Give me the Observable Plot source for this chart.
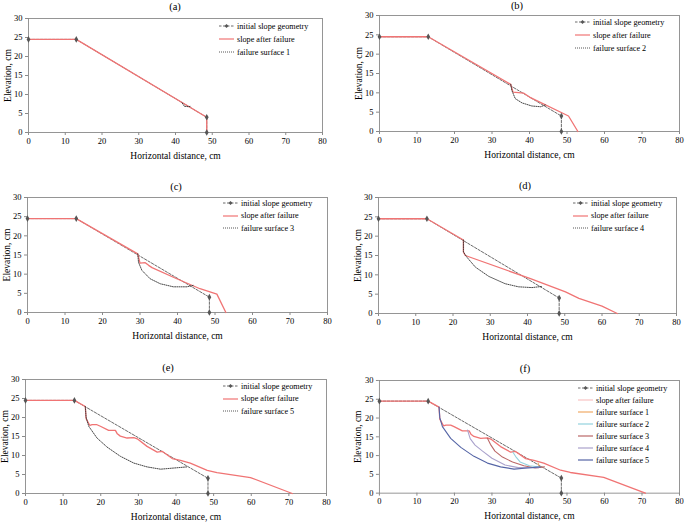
<!DOCTYPE html>
<html><head><meta charset="utf-8">
<script src="https://cdn.jsdelivr.net/npm/d3@7"></script>
<script src="https://cdn.jsdelivr.net/npm/@observablehq/plot@0.6"></script>
<style>
body{margin:0;background:#fff;}
#root{position:relative;width:685px;height:522px;overflow:hidden;font-family:"Liberation Serif","Times New Roman",serif;color:#000;}
.panel{position:absolute;}
.title{position:absolute;font-size:10.5px;transform:translate(-50%,-50%);white-space:nowrap;}
.legend{position:absolute;font-size:8.2px;white-space:nowrap;}
.legend .row{display:flex;align-items:center;}
.legend svg{display:block;margin-right:3px;}
</style></head><body><div id="root"></div>
<script>
// ---------- data ----------
const xTicks = [0, 10, 20, 30, 40, 50, 60, 70, 80];
const yTicks = [0, 5, 10, 15, 20, 25, 30];
const xLabel = "Horizontal distance, cm";
const yLabel = "Elevation, cm";
const titles = ["(a)", "(b)", "(c)", "(d)", "(e)", "(f)"];

const initialX = [0, 13, 48.5, 48.5];
const initialY = [24.5, 24.5, 4, 0];

const afterAX = [0, 13, 48.5, 48.5];
const afterAY = [24.5, 24.5, 4, 0];
const afterBX = [0, 13, 35, 35.6, 38.5, 40, 50.4, 52.9];
const afterBY = [24.5, 24.5, 12.2, 10.2, 9.9, 8.9, 4.0, 0];
const afterCX = [0, 13, 29.4, 30, 31.4, 32.3, 33.2, 39.8, 46, 50.5, 52.9];
const afterCY = [24.5, 24.5, 15.3, 12.9, 13, 12.3, 11.7, 8.8, 6.2, 4.8, 0];
const afterDX = [0, 13, 22.8, 22.8, 23.3, 40.8, 50.2, 53.8, 60, 64.1];
const afterDY = [24.5, 24.5, 19, 15.9, 15, 9, 5.6, 3.9, 1.9, 0];
const afterEX = [0, 13, 15.9, 16.1, 17.1, 17.7, 19, 19.9, 22.1, 23.9, 24.4, 25.2, 27, 28.8, 29.7, 32.3, 35, 36.3, 39, 41.2, 43.8, 48.3, 50.9, 59.8, 70.9];
const afterEY = [24.5, 24.5, 22.9, 19.7, 17.9, 18.1, 18.1, 17.7, 16.6, 16.6, 15.7, 15.1, 14.6, 14.7, 14.4, 12.4, 10.9, 11.1, 9.2, 8.7, 8.0, 6.1, 5.5, 4.2, 0];

const surf1X = [41.8, 42.4, 43.5, 44.2];
const surf1Y = [7.8, 6.9, 6.8, 6.9];
const surf2X = [35, 35.3, 36.2, 38, 40.6, 43, 44.3];
const surf2Y = [12.2, 10.6, 8.5, 7.4, 6.6, 6.4, 6.9];
const surf3X = [29.4, 29.6, 30.5, 32.7, 35.4, 38.9, 42.5, 44.3];
const surf3Y = [15.3, 13.1, 11, 8.8, 7.5, 6.7, 6.7, 7.1];
const surf4X = [22.8, 22.8, 23.7, 26, 29.6, 34, 37.6, 41.2, 43.9];
const surf4Y = [19, 15.9, 14.6, 12, 9.6, 7.7, 6.9, 6.7, 7];
const surf5X = [15.9, 16.1, 16.8, 19, 21.7, 25.2, 28.8, 32.3, 35.9, 39.4, 42.9];
const surf5Y = [22.9, 20.1, 17.7, 14.6, 12.2, 9.8, 8.0, 7.0, 6.4, 6.7, 7.0];

// composite (f) failure surfaces
const fSurf1X = [42.3, 42.6, 43.2];
const fSurf1Y = [8.0, 7.2, 6.9];
const fSurf2X = [35.6, 36.5, 37.5, 40, 43.3];
const fSurf2Y = [10.9, 9.5, 8.3, 7.3, 6.9];
const fSurf3X = [28.8, 29.6, 30.8, 32.8, 35.5, 38.5, 41.5, 44];
const fSurf3Y = [14.6, 13, 11.2, 9.6, 8.3, 7.3, 6.7, 7];
const fSurf4X = [23.5, 24.2, 25.5, 27.5, 30, 33.5, 37, 42.5];
const fSurf4Y = [16.8, 14.5, 12.8, 11.2, 9.3, 7.5, 6.8, 6.8];
const fSurf5X = surf5X;
const fSurf5Y = surf5Y;

const legInitial = "initial slope geometry";
const legAfter = "slope after failure";
const legSurf = ["failure surface 1", "failure surface 2", "failure surface 3", "failure surface 4", "failure surface 5"];

// ---------- styles ----------
const RED = "#f07474";
const surfColors = ["#f0aa66", "#93d2de", "#bb6868", "#aaa2cc", "#5565a6"];
const FONT = '"Liberation Serif","Times New Roman",serif';
const pts = (xs, ys) => xs.map((x, i) => ({x, y: ys[i]}));

// ---------- layout ----------
const panels = [
  {col: 0, fl: 28, fr: 322, ft: 18, fb: 132, after: [afterAX, afterAY], surf: [surf1X, surf1Y], s: 0,
   title: [175, 6], leg: {x: 219, y: 26, dy: 13}},
  {col: 1, fl: 379, fr: 679, ft: 15, fb: 131, after: [afterBX, afterBY], surf: [surf2X, surf2Y], s: 1,
   title: [517, 5], leg: {x: 575, y: 22, dy: 13}},
  {col: 0, fl: 27, fr: 327, ft: 197, fb: 312, after: [afterCX, afterCY], surf: [surf3X, surf3Y], s: 2,
   title: [176, 186], leg: {x: 223, y: 203, dy: 12.5}},
  {col: 1, fl: 378, fr: 676, ft: 197, fb: 313, after: [afterDX, afterDY], surf: [surf4X, surf4Y], s: 3,
   title: [525, 185], leg: {x: 573, y: 203, dy: 12.5}},
  {col: 0, fl: 25, fr: 326, ft: 379, fb: 493, after: [afterEX, afterEY], surf: [surf5X, surf5Y], s: 4,
   title: [168, 367], leg: {x: 223, y: 386, dy: 12.5}},
  {col: 1, fl: 379, fr: 680, ft: 380, fb: 493, after: [afterEX, afterEY], composite: true,
   title: [525, 368], leg: {x: 578, y: 388, dy: 12}}
];

const root = document.getElementById("root");

function legendSample(kind, color) {
  const ns = "http://www.w3.org/2000/svg";
  const svg = document.createElementNS(ns, "svg");
  svg.setAttribute("width", 15); svg.setAttribute("height", 8);
  const l = document.createElementNS(ns, "line");
  l.setAttribute("x1", 0); l.setAttribute("x2", 15); l.setAttribute("y1", 4); l.setAttribute("y2", 4);
  if (kind === "initial") {
    l.setAttribute("stroke", "#444"); l.setAttribute("stroke-width", 0.8); l.setAttribute("stroke-dasharray", "2.5,1.5");
  } else if (kind === "surf") {
    l.setAttribute("stroke", "#444"); l.setAttribute("stroke-width", 0.9); l.setAttribute("stroke-dasharray", "1,1");
  } else {
    l.setAttribute("stroke", color); l.setAttribute("stroke-width", 1.2);
  }
  svg.appendChild(l);
  if (kind === "initial") {
    const p = document.createElementNS(ns, "path");
    p.setAttribute("d", "M7.5,2 L9.5,4 L7.5,6 L5.5,4 Z");
    p.setAttribute("fill", "#555");
    svg.appendChild(p);
  }
  return svg;
}

panels.forEach((cfg, i) => {
  const svgLeft = cfg.col === 0 ? 0 : 345;
  const ML = cfg.fl - svgLeft, MR = 6, MT = 6, MB = 34;
  const width = cfg.fr - svgLeft + MR;
  const height = cfg.fb - cfg.ft + MT + MB;
  const initial = pts(initialX, initialY);
  const after = pts(cfg.after[0], cfg.after[1]);

  const marks = [
    Plot.frame({stroke: "#8a8a8a", strokeWidth: 0.9}),
    Plot.axisX(xTicks, {tickSize: 3, tickPadding: 2, stroke: "#8a8a8a", label: null, fontSize: 8.5}),
    Plot.axisY(yTicks, {tickSize: 3, tickPadding: 3, stroke: "#8a8a8a", label: null, fontSize: 8.5}),
    Plot.line(initial, {x: "x", y: "y", stroke: "#444", strokeWidth: 0.8, strokeDasharray: "2.5,1.5"}),
    Plot.line(after, {x: "x", y: "y", stroke: RED, strokeWidth: 1.3})
  ];
  if (cfg.composite) {
    const fs = [[fSurf1X, fSurf1Y], [fSurf2X, fSurf2Y], [fSurf3X, fSurf3Y], [fSurf4X, fSurf4Y], [fSurf5X, fSurf5Y]];
    fs.forEach((s, k) => marks.push(Plot.line(pts(s[0], s[1]), {x: "x", y: "y", stroke: surfColors[k], strokeWidth: 1.1})));
  } else {
    marks.push(Plot.line(pts(cfg.surf[0], cfg.surf[1]), {x: "x", y: "y", stroke: "#333", strokeWidth: 0.9, strokeDasharray: "1,1.2"}));
  }
  marks.push(Plot.dot(initial, {x: "x", y: "y", symbol: "diamond", r: 2, fill: "#555", stroke: "none"}));
  marks.push(Plot.text([xLabel], {text: d => d, frameAnchor: "bottom", textAnchor: "middle", lineAnchor: "middle", dy: 23, fontSize: 9.5}));
  marks.push(Plot.text([yLabel], {text: d => d, frameAnchor: "left", textAnchor: "middle", lineAnchor: "middle", rotate: -90, dx: -21, fontSize: 9.5}));

  const chart = Plot.plot({
    width, height,
    marginLeft: ML, marginRight: MR, marginTop: MT, marginBottom: MB,
    x: {domain: [0, 80]},
    y: {domain: [0, 30]},
    style: {fontFamily: FONT, fontSize: "8.5px", color: "#000", background: "transparent", overflow: "visible"},
    marks
  });
  const wrap = document.createElement("div");
  wrap.className = "panel";
  wrap.style.left = svgLeft + "px";
  wrap.style.top = (cfg.ft - MT) + "px";
  wrap.appendChild(chart);
  root.appendChild(wrap);

  const t = document.createElement("div");
  t.className = "title";
  t.textContent = titles[i];
  t.style.left = cfg.title[0] + "px";
  t.style.top = cfg.title[1] + "px";
  root.appendChild(t);

  const leg = document.createElement("div");
  leg.className = "legend";
  leg.style.left = cfg.leg.x + "px";
  leg.style.top = (cfg.leg.y - cfg.leg.dy / 2) + "px";
  const items = [["initial", null, legInitial], ["after", cfg.composite ? "#f9c4c4" : RED, legAfter]];
  if (cfg.composite) legSurf.forEach((s, k) => items.push(["col", surfColors[k], s]));
  else items.push(["surf", null, legSurf[cfg.s]]);
  items.forEach(([kind, color, label]) => {
    const row = document.createElement("div");
    row.className = "row";
    row.style.height = cfg.leg.dy + "px";
    row.appendChild(legendSample(kind, color));
    const sp = document.createElement("span");
    sp.textContent = label;
    row.appendChild(sp);
    leg.appendChild(row);
  });
  root.appendChild(leg);
});
</script></body></html>
